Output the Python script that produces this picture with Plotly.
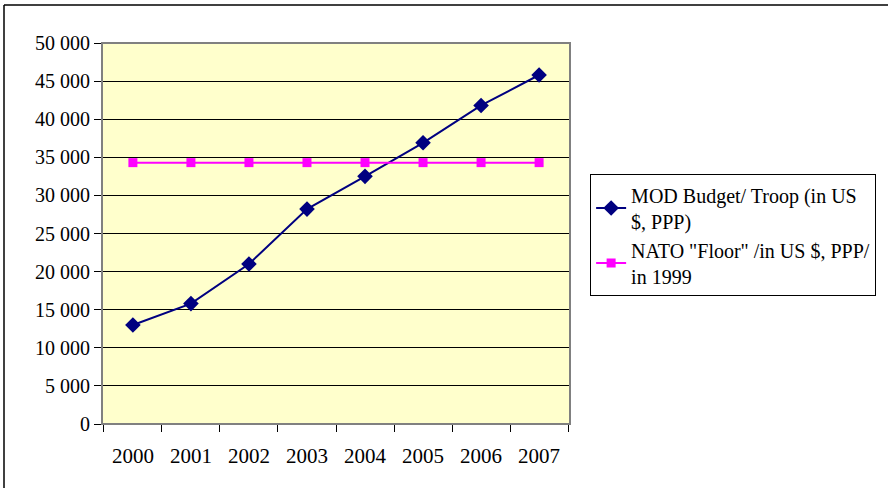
import plotly.graph_objects as go

years = ["2000", "2001", "2002", "2003", "2004", "2005", "2006", "2007"]
mod_budget = [13000, 15800, 21000, 28200, 32500, 36900, 41800, 45800]
nato_floor = [34300] * 8
y_ticks = [0, 5000, 10000, 15000, 20000, 25000, 30000, 35000, 40000, 45000, 50000]

font_family = "Liberation Serif, Times New Roman, serif"

fig = go.Figure()
fig.add_trace(go.Scatter(
    x=years, y=mod_budget, mode="lines+markers",
    name="MOD Budget/ Troop (in US<br>$, PPP)",
    line=dict(color="#000080", width=2),
    marker=dict(symbol="diamond", size=12, color="#000080"),
))
fig.add_trace(go.Scatter(
    x=years, y=nato_floor, mode="lines+markers",
    name="NATO \"Floor\" /in US $, PPP/<br>in 1999",
    line=dict(color="#FF00FF", width=2),
    marker=dict(symbol="square", size=9, color="#FF00FF"),
))

fig.update_layout(
    width=888, height=488,
    margin=dict(l=102, r=318, t=43, b=64),
    paper_bgcolor="white",
    plot_bgcolor="#FFFFCC",
    separators=". ",
    font=dict(family=font_family, size=20, color="black"),
    showlegend=True,
    legend=dict(
        x=1.043, y=0.655, xanchor="left", yanchor="top",
        bordercolor="black", borderwidth=1, bgcolor="white",
        font=dict(family=font_family, size=20),
        tracegroupgap=2,
    ),
    xaxis=dict(
        type="category", showgrid=False, ticks="outside", tickson="boundaries",
        ticklen=7, tickcolor="black", showline=True, linecolor="black", linewidth=1,
        tickfont=dict(size=21), ticklabelstandoff=13,
    ),
    yaxis=dict(
        range=[0, 50000], tickvals=y_ticks, tickformat=",d",
        showgrid=True, gridcolor="black", gridwidth=1,
        ticks="outside", ticklen=7, tickcolor="black",
        showline=True, linecolor="black", linewidth=1,
        tickfont=dict(size=20), zeroline=False,
    ),
    shapes=[
        dict(type="rect", xref="paper", yref="paper", x0=0, x1=1, y0=0, y1=1,
             line=dict(color="#808080", width=2), layer="above"),
        dict(type="line", xref="paper", yref="paper", x0=-0.2094, x1=1.68,
             y0=1.0997, y1=1.0997, line=dict(color="black", width=1.5)),
        dict(type="line", xref="paper", yref="paper", x0=-0.2094, x1=-0.2094,
             y0=-0.17, y1=1.0997, line=dict(color="black", width=1.5)),
    ],
)

fig.write_html("out.html")
